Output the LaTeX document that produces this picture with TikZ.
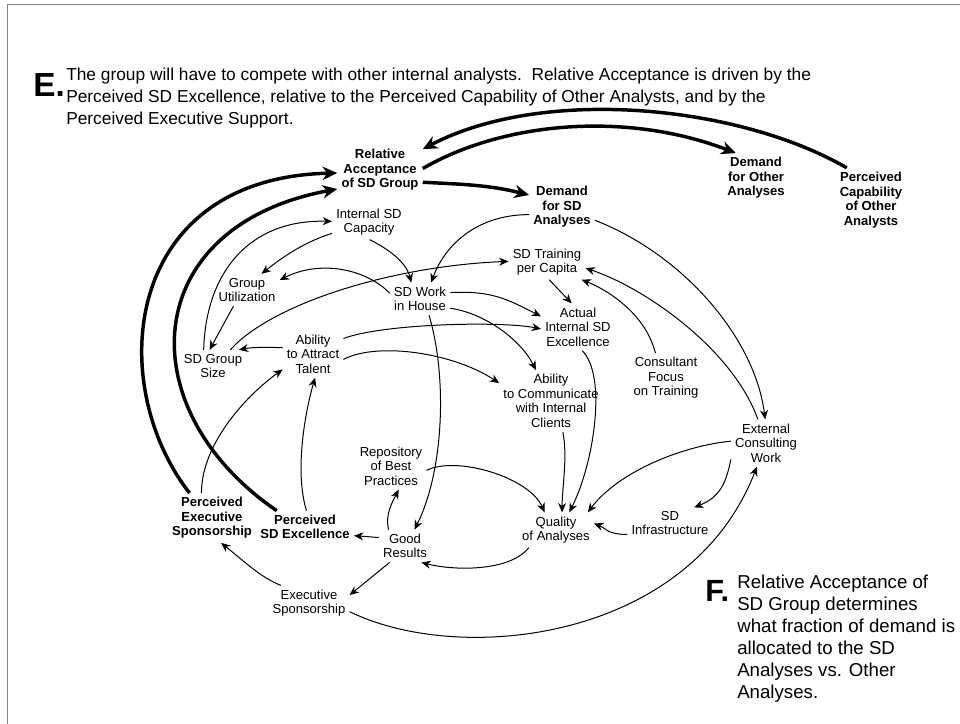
\documentclass[tikz,border=0pt]{standalone}
\usepackage{fontspec}
\setmainfont{Liberation Sans}
\usetikzlibrary{arrows.meta}

\begin{document}
\begin{tikzpicture}[x=0.75pt, y=-0.75pt,
  var/.style={align=center, inner sep=3pt, font=\fontsize{9.8}{10.9}\selectfont},
  keyvar/.style={var, font=\fontsize{9.8}{10.9}\selectfont\bfseries},
  link/.style={line width=0.75pt, -{Stealth[length=7pt, width=6pt, inset=2.2pt]}},
  majorlink/.style={line width=2.6pt, -{Stealth[length=11pt, width=10pt, inset=3.5pt]}},
  note/.style={align=left, inner sep=0pt, anchor=north west}]

	\useasboundingbox (0,0) rectangle (960,724);
	\draw[gray, line width=0.75pt] (7,724) -- (7,5) -- (960,5);

	% comments E and F
	\node[font=\fontsize{25}{25}\selectfont\bfseries, anchor=base west, inner sep=0pt] (bigE) at (33,96) {E.};
	\node[note, font=\fontsize{13}{16.5}\selectfont] (textE) at (66,68) {The group will have to compete with other internal analysts.\ \ Relative Acceptance is driven by the\\Perceived SD Excellence, relative to the Perceived Capability of Other Analysts, and by the\\Perceived Executive Support.};
	\node[font=\fontsize{23}{23}\selectfont\bfseries, anchor=base west, inner sep=0pt] (bigF) at (705,601) {F.};
	\node[note, font=\fontsize{14}{16.5}\selectfont] (textF) at (737,575) {Relative Acceptance of\\SD Group determines\\what fraction of demand is\\allocated to the SD\\Analyses vs. Other\\Analyses.};

	% variables
	\node[keyvar] (RelAccept) at (380,170) {Relative\\Acceptance\\of SD Group};
	\node[keyvar] (DemandSD) at (562,207) {Demand\\for SD\\Analyses};
	\node[keyvar] (DemandOther) at (756,178) {Demand\\for Other\\Analyses};
	\node[keyvar] (PercCap) at (871,200) {Perceived\\Capability\\of Other\\Analysts};
	\node[var] (IntCap) at (369,222) {Internal SD\\Capacity};
	\node[var] (GroupUtil) at (247,290) {Group\\Utilization};
	\node[var] (SDWork) at (420,299) {SD Work\\in House};
	\node[var] (SDTraining) at (547,262) {SD Training\\per Capita};
	\node[var] (ActualExc) at (578,327) {Actual\\Internal SD\\Excellence};
	\node[var] (GroupSize) at (213,366) {SD Group\\Size};
	\node[var] (AttractTalent) at (313,354) {Ability\\to Attract\\Talent};
	\node[var] (CommClients) at (551,401) {Ability\\to Communicate\\with Internal\\Clients};
	\node[var] (ConsFocus) at (666,378) {Consultant\\Focus\\on Training};
	\node[var] (ExtWork) at (766,443) {External\\Consulting\\Work};
	\node[var] (Repository) at (391,466) {Repository\\of Best\\Practices};
	\node[var] (Quality) at (556,530) {Quality\\of Analyses};
	\node[var] (Infra) at (670,523) {SD\\Infrastructure};
	\node[var] (GoodResults) at (405,546) {Good\\Results};
	\node[keyvar] (PercExc) at (305,527) {Perceived\\SD Excellence};
	\node[keyvar] (PercSpons) at (212,518) {Perceived\\Executive\\Sponsorship};
	\node[var] (ExecSpons) at (309,603) {Executive\\Sponsorship};

	% acceptance loops
	\draw[majorlink] (PercCap.127) .. controls +(-109,-63) and +(120,-63) .. (RelAccept.26);
	\draw[majorlink] (RelAccept.2) .. controls +(81,-47) and +(-109,-42) .. (DemandOther.129);
	\draw[majorlink] (RelAccept.344) .. controls +(40,2) and +(-40,-10) .. (DemandSD.160);
	\draw[majorlink] (PercSpons.132) .. controls +(-85,-109) and +(-215,5) .. (RelAccept.184);
	\draw[majorlink] (PercExc.150) .. controls +(-149,-102) and +(-199,37) .. (RelAccept.204);

	% internal links
	\draw[link] (DemandSD.193) .. controls +(-50,0) and +(15,-40) .. (SDWork.56);
	\draw[link] (DemandSD.338) .. controls +(90,35) and +(-10,-80) .. (ExtWork.92);
	\draw[link] (IntCap.197) .. controls +(-25,8) and +(25,-20) .. (GroupUtil.48);
	\draw[link] (IntCap.272) .. controls +(20,10) and +(-5,-20) .. (SDWork.118);
	\draw[link] (GroupSize.120) .. controls +(2,-75) and +(-85,-2) .. (IntCap.179);
	\draw[link] (SDWork.169) .. controls +(-25,-25) and +(40,-20) .. (GroupUtil.17);
	\draw[link] (GroupUtil.230) -- (GroupSize.102);
	\draw[link] (GroupSize.43) .. controls +(40,-45) and +(-120,5) .. (SDTraining.179);
	\draw[link] (AttractTalent.168) .. controls +(-15,0) and +(15,-3) .. (GroupSize.32);
	\draw[link] (AttractTalent.27) .. controls +(40,-15) and +(-40,-8) .. (ActualExc.183);
	\draw[link] (AttractTalent.350) .. controls +(35,-18) and +(-45,-30) .. (CommClients.161);
	\draw[link] (SDWork.12) .. controls +(40,-2) and +(-35,-18) .. (ActualExc.164);
	\draw[link] (SDWork.343) .. controls +(35,5) and +(-15,-30) .. (CommClients.116);
	\draw[link] (SDWork.299) .. controls +(18,60) and +(30,-60) .. (GoodResults.60);
	\draw[link] (SDTraining.277) -- (ActualExc.105);
	\draw[link] (ConsFocus.113) .. controls +(-10,-40) and +(25,10) .. (SDTraining.333);
	\draw[link] (ExtWork.109) .. controls +(-25,-70) and +(60,20) .. (SDTraining.351);
	\draw[link] (ActualExc.280) .. controls +(25,25) and +(25,-50) .. (Quality.53);
	\draw[link] (CommClients.291) .. controls +(5,25) and +(0,-25) .. (Quality.71);
	\draw[link] (ExtWork.177) .. controls +(-50,5) and +(30,-40) .. (Quality.29);
	\draw[link] (ExtWork.205) .. controls +(-5,25) and +(25,-10) .. ([xshift=-14pt]Infra.20);
	\draw[link] (Infra.195) .. controls +(-20,0) and +(12,5) .. (Quality.10);
	\draw[link] (Repository.353) .. controls +(30,-15) and +(-15,-35) .. (Quality.123);
	\draw[link] (Quality.213) .. controls +(-20,25) and +(30,8) .. (GoodResults.315);
	\draw[link] (GoodResults.135) .. controls +(-4,-15) and +(-6,12) .. (Repository.288);
	\draw[link] (GoodResults.162) -- (PercExc.350);
	\draw[link] (GoodResults.227) -- (ExecSpons.11);
	\draw[link] (ExecSpons.148) .. controls +(-20,-8) and +(25,20) .. (PercSpons.290);
	\draw[link] (ExecSpons.348) .. controls +(110,54) and +(-68,175) .. (ExtWork.249);
	\draw[link] (PercSpons.113) .. controls +(0,-50) and +(-35,25) .. (AttractTalent.207);
	\draw[link] (PercExc.85) .. controls +(-12,-40) and +(-10,35) .. (AttractTalent.275);

\end{tikzpicture}
\end{document}
